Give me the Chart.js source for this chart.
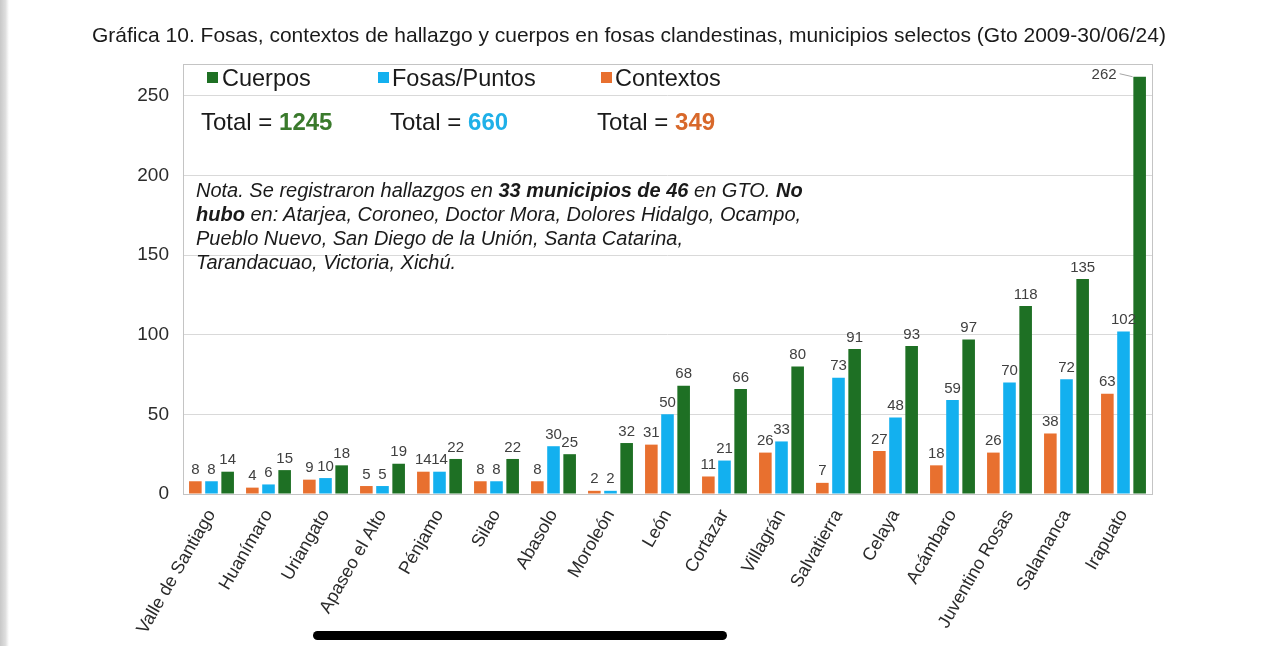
<!DOCTYPE html>
<html lang="es">
<head>
<meta charset="utf-8">
<title>Gráfica 10</title>
<script src="https://cdn.jsdelivr.net/npm/chart.js@4.4.1/dist/chart.umd.min.js"></script>
<style>
  html, body { margin: 0; padding: 0; background: #fff; }
  body { width: 1280px; height: 646px; position: relative; overflow: hidden; font-family: "Liberation Sans", Arial, sans-serif; color: #1a1a1a; }
  canvas { position: absolute; left: 0; top: 0; }
  #marco { position: absolute; left: 0; top: 0; width: 9px; height: 646px; background: linear-gradient(to right, #c8c8c8, #dedede 60%, #fff); }
  #titulo { position: absolute; top: 23px; left: 0; width: 1258px; text-align: center; font-size: 21px; line-height: 24px; white-space: nowrap; }
  .leyenda { position: absolute; font-size: 23.5px; line-height: 24px; white-space: nowrap; }
  .cuadro { position: absolute; width: 11px; height: 11px; }
  .total { position: absolute; font-size: 24px; line-height: 24px; white-space: nowrap; top: 110px; }
  .total b { font-weight: bold; }
  #nota { position: absolute; left: 196px; top: 178px; font-size: 20px; line-height: 24px; font-style: italic; white-space: nowrap; }
  #barra { position: absolute; left: 313px; top: 631px; width: 414px; height: 9px; border-radius: 5px; background: #000; }
</style>
</head>
<body>
<canvas id="grafica" width="1280" height="646"></canvas>
<div id="marco"></div>
<div id="titulo">Gráfica 10. Fosas, contextos de hallazgo y cuerpos en fosas clandestinas, municipios selectos (Gto 2009-30/06/24)</div>

<!-- Leyenda (orden inverso al de las series) -->
<div class="cuadro" style="left:207px; top:72px; background:#1e7024;"></div>
<div class="leyenda" style="left:222px; top:66px;">Cuerpos</div>
<div class="cuadro" style="left:378px; top:72px; background:#13b0ef;"></div>
<div class="leyenda" style="left:392px; top:66px;">Fosas/Puntos</div>
<div class="cuadro" style="left:601px; top:72px; background:#e8702f;"></div>
<div class="leyenda" style="left:615px; top:66px;">Contextos</div>

<div class="total" style="left:201px;">Total = <b style="color:#3a7a2c;">1245</b></div>
<div class="total" style="left:390px;">Total = <b style="color:#1fb0e8;">660</b></div>
<div class="total" style="left:597px;">Total = <b style="color:#d8682a;">349</b></div>

<div id="nota">Nota. Se registraron hallazgos en <b>33 municipios de 46</b> en GTO. <b>No</b><br><b>hubo</b> en: Atarjea, Coroneo, Doctor Mora, Dolores Hidalgo, Ocampo,<br>Pueblo Nuevo, San Diego de la Unión, Santa Catarina,<br>Tarandacuao, Victoria, Xichú.</div>

<div id="barra"></div>

<script>
// Datos de la gráfica
const municipios = ['Valle de Santiago', 'Huanímaro', 'Uriangato', 'Apaseo el Alto', 'Pénjamo', 'Silao', 'Abasolo', 'Moroleón', 'León', 'Cortazar', 'Villagrán', 'Salvatierra', 'Celaya', 'Acámbaro', 'Juventino Rosas', 'Salamanca', 'Irapuato'];
const contextos = [8, 4, 9, 5, 14, 8, 8, 2, 31, 11, 26, 7, 27, 18, 26, 38, 63];
const fosas = [8, 6, 10, 5, 14, 8, 30, 2, 50, 21, 33, 73, 48, 59, 70, 72, 102];
const cuerpos = [14, 15, 18, 19, 22, 22, 25, 32, 68, 66, 80, 91, 93, 97, 118, 135, 262];
const ticksY = [0, 50, 100, 150, 200, 250];

const fuente = '"Liberation Sans", Arial, sans-serif';

// Marco del área de trazado
const marcoArea = {
    id: 'marcoArea',
    beforeDatasetsDraw(chart) {
        const { ctx, chartArea: a } = chart;
        ctx.save();
        ctx.strokeStyle = '#c4c4c4';
        ctx.lineWidth = 1;
        ctx.strokeRect(Math.round(a.left) + 0.5, Math.round(a.top) + 0.5, Math.round(a.width), Math.round(a.height));
        ctx.restore();
    }
};

// Etiquetas de valor encima de cada barra
const etiquetasValor = {
    id: 'etiquetasValor',
    afterDatasetsDraw(chart) {
        const ctx = chart.ctx;
        const top = chart.chartArea.top;
        ctx.save();
        ctx.font = '15px ' + fuente;
        ctx.fillStyle = '#404040';
        chart.data.datasets.forEach((ds, i) => {
            chart.getDatasetMeta(i).data.forEach((bar, j) => {
                const v = ds.data[j];
                if (bar.y - 22 < top) {
                    // No cabe arriba: etiqueta a la izquierda con línea guía
                    ctx.textAlign = 'right';
                    ctx.textBaseline = 'middle';
                    ctx.fillText(v, bar.x - 23, bar.y - 2);
                    ctx.strokeStyle = '#a6a6a6';
                    ctx.lineWidth = 1;
                    ctx.beginPath();
                    ctx.moveTo(bar.x - 20, bar.y - 3);
                    ctx.lineTo(bar.x - 7, bar.y);
                    ctx.stroke();
                } else {
                    ctx.textAlign = 'center';
                    ctx.textBaseline = 'bottom';
                    ctx.fillText(v, bar.x, bar.y - 4);
                }
            });
        });
        ctx.restore();
    }
};

new Chart(document.getElementById('grafica'), {
    type: 'bar',
    data: {
        labels: municipios,
        datasets: [
            { label: 'Contextos', data: contextos, backgroundColor: '#e8702f' },
            { label: 'Fosas/Puntos', data: fosas, backgroundColor: '#13b0ef' },
            { label: 'Cuerpos', data: cuerpos, backgroundColor: '#1e7024' }
        ]
    },
    options: {
        responsive: false,
        animation: false,
        categoryPercentage: 0.85,
        barPercentage: 0.78,
        layout: { padding: { top: 64, right: 128, bottom: 0, left: 0 } },
        plugins: {
            legend: { display: false },
            tooltip: { enabled: false }
        },
        scales: {
            x: {
                grid: { display: false },
                border: { display: false },
                ticks: {
                    minRotation: 60,
                    maxRotation: 60,
                    padding: 4,
                    color: '#2b2b2b',
                    font: { family: fuente, size: 18 }
                },
                afterFit(scale) { scale.height = 152; }
            },
            y: {
                min: 0,
                max: 270,
                grid: { color: '#d9d9d9', lineWidth: 1, drawTicks: false },
                border: { display: false },
                ticks: {
                    padding: 14,
                    color: '#2b2b2b',
                    font: { family: fuente, size: 19 }
                },
                afterBuildTicks(scale) { scale.ticks = ticksY.map(v => ({ value: v })); },
                afterFit(scale) { scale.width = 183; }
            }
        }
    },
    plugins: [marcoArea, etiquetasValor]
});
</script>
</body>
</html>
